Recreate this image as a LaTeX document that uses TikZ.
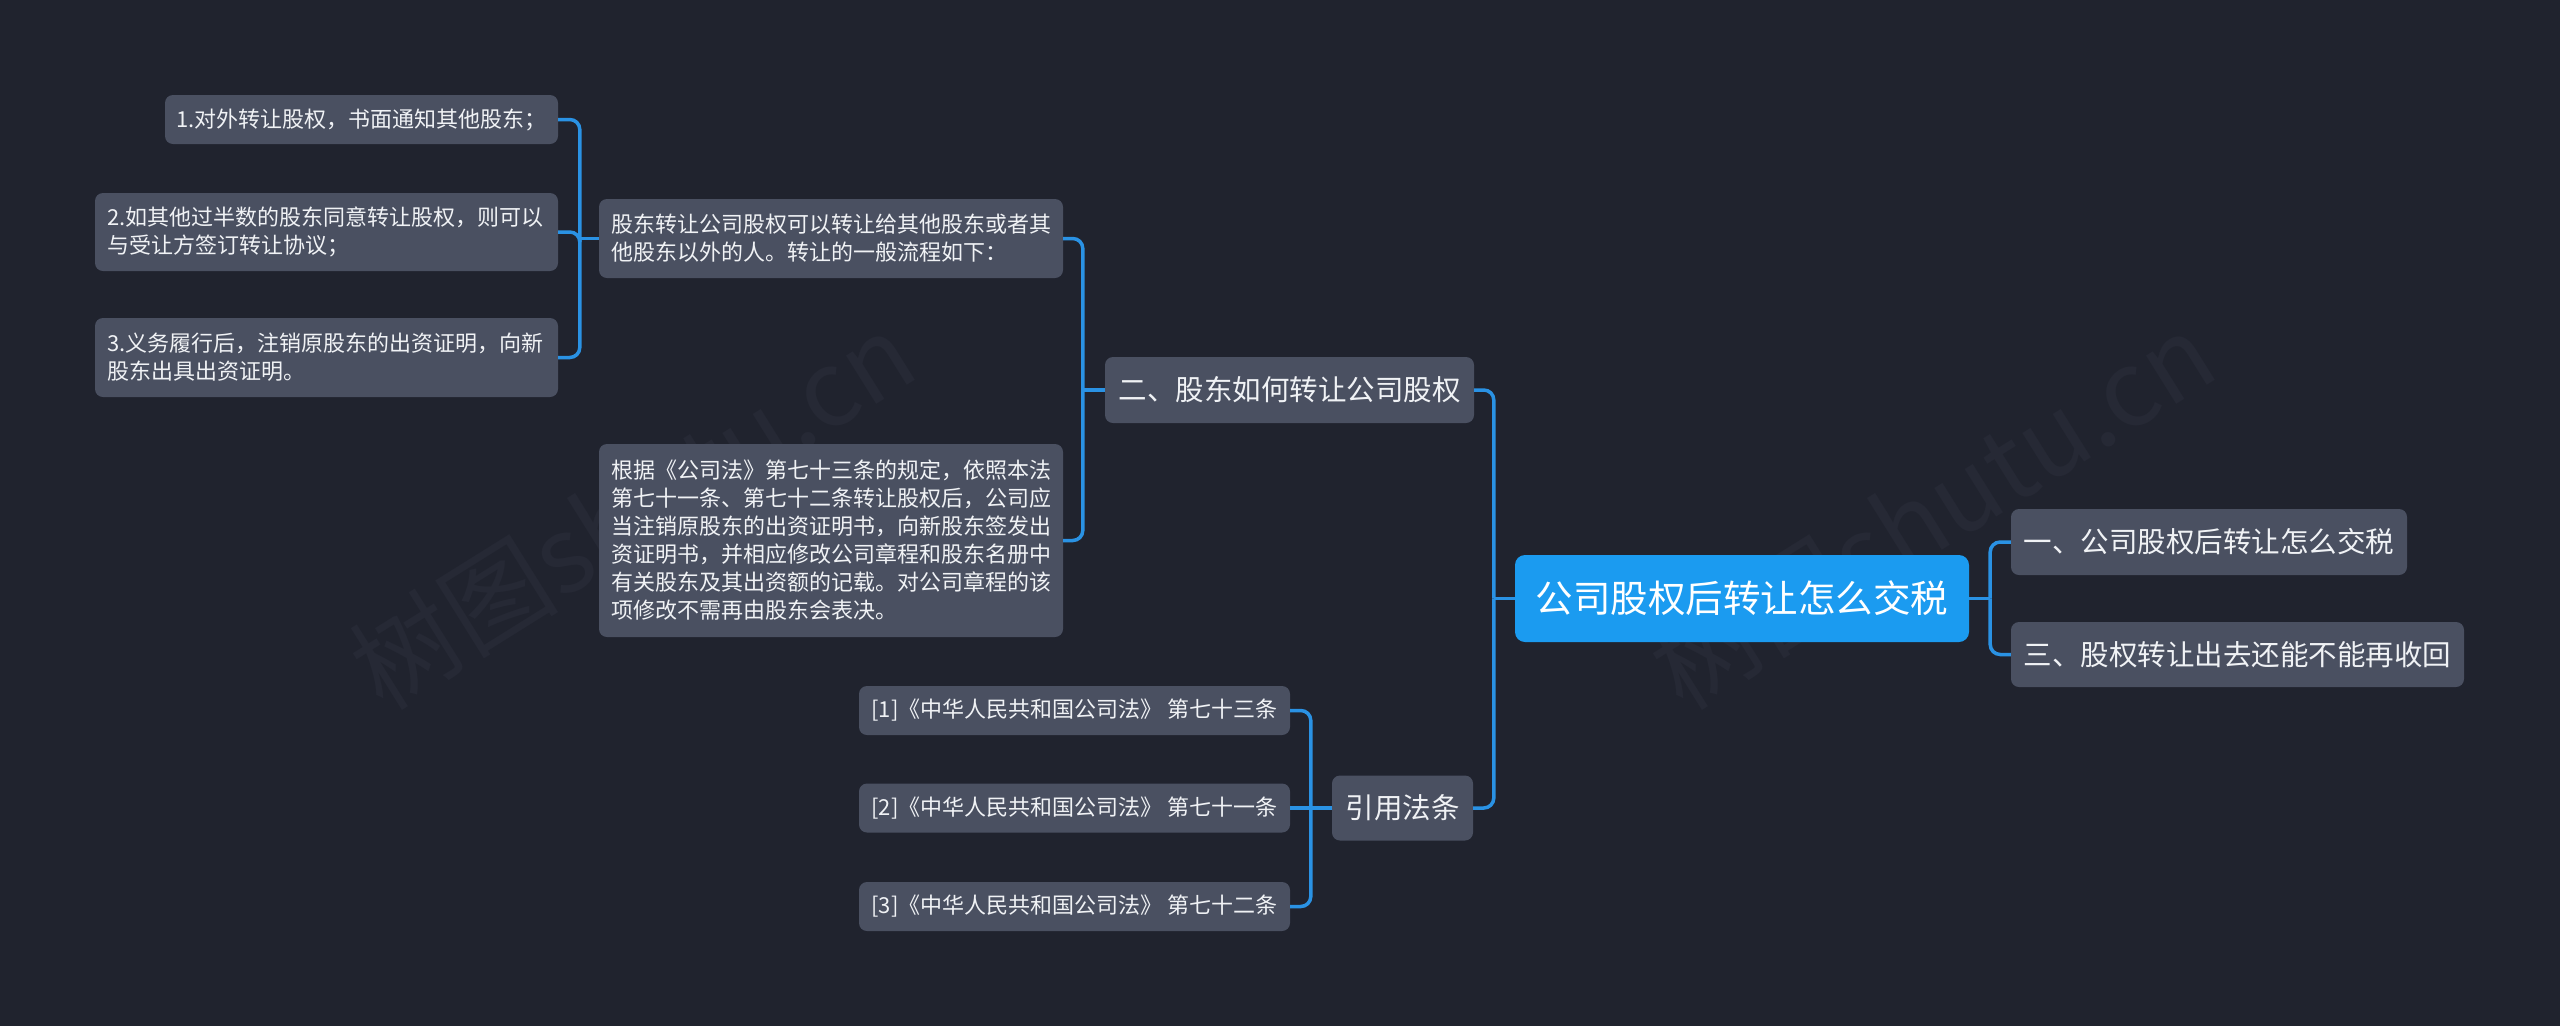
\documentclass[tikz,border=0pt]{standalone}
\usepackage{fontspec}
\setmainfont{Noto Sans CJK SC}
\definecolor{bg}{HTML}{20232E}
\definecolor{nodefill}{HTML}{4A5061}
\definecolor{rootfill}{HTML}{1B9BF0}
\definecolor{linec}{HTML}{2A92E4}
\definecolor{txt}{HTML}{F0F2F5}
\definecolor{wmc}{HTML}{262935}
\tikzset{
  box/.style={fill=nodefill, rounded corners=8pt, text=txt, inner sep=0pt, align=center},
  leaf/.style={box, font=\fontsize{22}{28}\selectfont},
  multi/.style={leaf, align=left},
  mid/.style={box, font=\fontsize{28.5}{34}\selectfont},
  rootbox/.style={box, fill=rootfill, text=white, rounded corners=10pt, font=\fontsize{37.5}{44}\selectfont},
  conn/.style={draw=linec, line width=3.5pt},
  elbow/.style={conn, rounded corners=10pt},
  wm/.style={text=wmc, font=\fontsize{105}{110}\selectfont, inner sep=0pt}
}
\begin{document}
\begin{tikzpicture}[x=1pt,y=-1pt]
\fill[bg] (0,0) rectangle (2560,1026);
\useasboundingbox (0,0) rectangle (2560,1026);
% watermarks
\node[wm, rotate=32] (wm1) at (632,510) {树图shutu.cn};
\node[wm, rotate=32] (wm2) at (1932,510) {树图shutu.cn};
% nodes
\node[rootbox, minimum width=454pt, minimum height=87pt] (root) at (1742,598.5) {公司股权后转让怎么交税};
\node[mid, minimum width=396pt, minimum height=66pt] (one) at (2209,542) {一、公司股权后转让怎么交税};
\node[mid, minimum width=453pt, minimum height=65pt] (three) at (2237.5,654.5) {三、股权转让出去还能不能再收回};
\node[mid, minimum width=369pt, minimum height=66pt] (two) at (1289.5,390) {二、股东如何转让公司股权};
\node[mid, minimum width=141pt, minimum height=65pt] (cite) at (1402.5,808) {引用法条};
\node[multi, text width=440pt, minimum width=464pt, minimum height=79pt] (nA) at (831,238.5) {股东转让公司股权可以转让给其他股东或者其\\他股东以外的人。转让的一般流程如下：};
\node[multi, text width=440pt, minimum width=464pt, minimum height=193pt] (nB) at (831,540.5) {根据《公司法》第七十三条的规定，依照本法\\第七十一条、第七十二条转让股权后，公司应\\当注销原股东的出资证明书，向新股东签发出\\资证明书，并相应修改公司章程和股东名册中\\有关股东及其出资额的记载。对公司章程的该\\项修改不需再由股东会表决。};
\node[leaf, minimum width=393pt, minimum height=49pt] (n1) at (361.5,119.5) {1.对外转让股权，书面通知其他股东；};
\node[multi, text width=439pt, minimum width=463pt, minimum height=78pt] (n2) at (326.5,232) {2.如其他过半数的股东同意转让股权，则可以\\与受让方签订转让协议；};
\node[multi, text width=439pt, minimum width=463pt, minimum height=79pt] (n3) at (326.5,357.5) {3.义务履行后，注销原股东的出资证明，向新\\股东出具出资证明。};
\node[leaf, minimum width=431pt, minimum height=49pt] (c1) at (1074.5,710.5) {[1]《中华人民共和国公司法》 第七十三条};
\node[leaf, minimum width=431pt, minimum height=49pt] (c2) at (1074.5,808) {[2]《中华人民共和国公司法》 第七十一条};
\node[leaf, minimum width=431pt, minimum height=49pt] (c3) at (1074.5,906.5) {[3]《中华人民共和国公司法》 第七十二条};
% connectors
\draw[conn] (root.east) -- ++(21,0) coordinate (jR);
\draw[elbow] (jR) |- (one.west);
\draw[elbow] (jR) |- (three.west);
\draw[conn] (root.west) -- ++(-21,0) coordinate (jL);
\draw[elbow] (jL) |- (two.east);
\draw[elbow] (jL) |- (cite.east);
\draw[conn] (two.west) -- ++(-22,0) coordinate (j2);
\draw[elbow] (j2) |- (nA.east);
\draw[elbow] (j2) |- (nB.east);
\draw[conn] (nA.west) -- ++(-19,0) coordinate (jA);
\draw[elbow] (jA) |- (n1.east);
\draw[elbow] (jA) |- (n2.east);
\draw[elbow] (jA) |- (n3.east);
\draw[conn] (cite.west) -- ++(-21,0) coordinate (jC);
\draw[elbow] (jC) |- (c1.east);
\draw[conn] (jC) -- (c2.east);
\draw[elbow] (jC) |- (c3.east);
\end{tikzpicture}
\end{document}
